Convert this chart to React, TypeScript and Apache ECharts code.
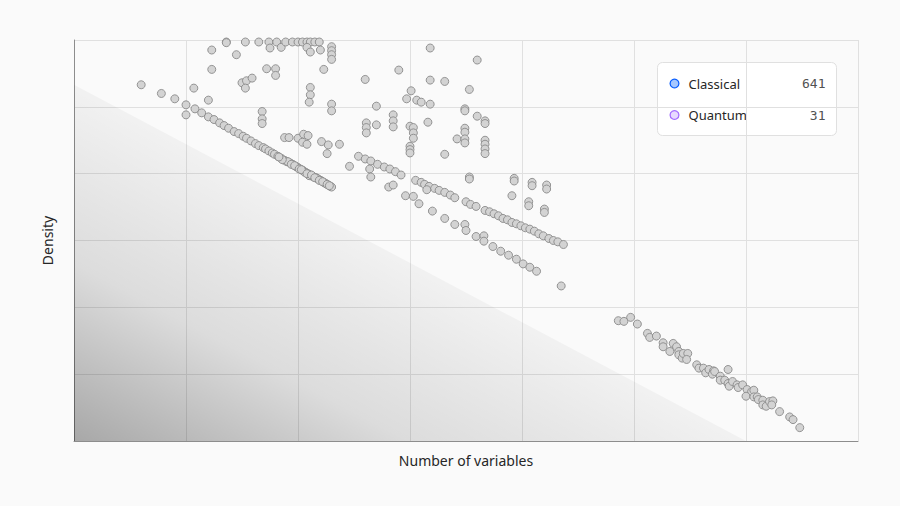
import React, { useEffect, useRef } from "react";
import * as echarts from "echarts";

// Axis domain (no tick labels are shown in the reference)
const xRange = [0, 7];
const yRange = [0, 6];

// Shaded triangle edge (data units)
const shadeEdge: [number, number][] = [[0, 5.33], [6, 0]];

// Upper scattered points and columns
const upperPoints: [number, number][] = [
  [0.60, 5.33], [0.78, 5.20], [0.90, 5.12], [1.00, 5.03], [1.00, 4.88], [1.07, 5.28], [1.08, 4.97],
  [1.20, 5.10], [1.23, 5.85], [1.23, 5.56], [1.36, 5.97], [1.36, 5.96], [1.45, 5.78], [1.53, 5.97],
  [1.50, 5.36], [1.54, 5.39], [1.59, 5.43], [1.53, 5.28], [1.65, 5.97], [1.72, 5.57], [1.74, 5.97],
  [1.75, 5.88], [1.80, 5.57], [1.80, 5.47], [1.81, 5.97], [1.85, 5.89], [1.89, 5.97], [1.95, 5.97],
  [2.00, 5.97], [2.04, 5.97], [2.08, 5.97], [2.11, 5.97], [2.15, 5.97], [2.19, 5.97], [2.08, 5.89],
  [2.11, 5.82], [2.20, 5.85], [1.68, 4.93], [1.68, 4.82], [1.68, 4.75], [1.88, 4.54], [1.92, 4.54],
  [2.00, 4.53], [2.05, 4.59], [2.09, 4.57], [2.04, 4.47], [2.08, 4.44], [2.11, 5.29], [2.11, 5.18],
  [2.10, 5.07], [2.23, 5.56], [2.30, 5.90], [2.30, 5.84], [2.30, 5.78], [2.30, 5.71], [2.30, 5.04],
  [2.30, 4.94], [2.21, 4.48], [2.27, 4.43], [2.26, 4.30], [2.37, 4.44], [2.46, 4.11], [2.60, 5.41],
  [2.70, 5.01], [2.70, 4.73], [2.61, 4.76], [2.61, 4.69], [2.61, 4.61], [2.85, 4.88], [2.85, 4.79],
  [2.85, 4.70], [2.90, 5.55], [3.00, 4.71], [3.03, 4.69], [3.03, 4.61], [3.03, 4.53], [3.00, 4.41],
  [3.00, 4.36], [3.00, 4.31], [3.01, 5.24], [2.97, 5.12], [3.06, 5.10], [3.10, 5.07], [3.18, 5.04],
  [3.18, 5.88], [3.18, 5.40], [3.31, 5.38], [3.16, 4.77], [3.31, 4.29], [3.53, 5.26], [3.60, 5.70],
  [3.49, 4.97], [3.49, 4.94], [3.60, 4.86], [3.67, 4.79], [3.67, 4.75], [3.49, 4.68], [3.49, 4.62],
  [3.42, 4.52], [3.49, 4.52], [3.49, 4.46], [3.67, 4.50], [3.67, 4.44], [3.67, 4.37], [3.67, 4.30],
  [3.53, 3.95], [3.53, 3.92], [3.93, 3.93], [3.93, 3.89], [4.09, 3.87], [4.09, 3.82], [4.22, 3.83],
  [4.22, 3.77], [3.91, 3.67], [4.06, 3.58], [4.06, 3.52], [4.20, 3.47], [4.20, 3.42],
];

// Dense first band
const bandA: [number, number][] = [
  [1.14, 4.91], [1.20, 4.85], [1.25, 4.81], [1.30, 4.76], [1.34, 4.72], [1.38, 4.68], [1.43, 4.63],
  [1.47, 4.60], [1.51, 4.56], [1.54, 4.53], [1.58, 4.49], [1.62, 4.45], [1.65, 4.42], [1.69, 4.39],
  [1.71, 4.37], [1.74, 4.34], [1.77, 4.31], [1.79, 4.29], [1.82, 4.26], [1.85, 4.23], [1.88, 4.20],
  [1.90, 4.18], [1.93, 4.16], [1.95, 4.14], [1.96, 4.13], [1.98, 4.11], [2.00, 4.09], [2.02, 4.07],
  [2.04, 4.05], [2.05, 4.04], [2.07, 4.02], [2.09, 4.00], [2.11, 3.98], [2.13, 3.96], [2.14, 3.95],
  [2.16, 3.94], [2.18, 3.92], [2.20, 3.90], [2.21, 3.89], [2.23, 3.87], [2.25, 3.85], [2.27, 3.83],
  [2.29, 3.81], [2.30, 3.80], [2.10, 3.97], [2.17, 3.93], [2.24, 3.86], [2.06, 4.02], [1.99, 4.10],
  [1.91, 4.18], [1.94, 4.14], [1.97, 4.12], [2.01, 4.07], [2.03, 4.06], [2.08, 4.00], [2.12, 3.98],
  [2.15, 3.94], [2.19, 3.90], [2.22, 3.88], [2.26, 3.84], [2.28, 3.82], [1.86, 4.21], [1.83, 4.25],
];

const bandB: [number, number][] = [
  [2.54, 4.26], [2.60, 4.22], [2.65, 4.19], [2.71, 4.14], [2.77, 4.10], [2.82, 4.07], [2.87, 4.03],
  [2.92, 3.98], [2.64, 4.07], [2.65, 3.95], [2.81, 3.80], [2.85, 3.83],
];

const bandC: [number, number][] = [
  [3.05, 3.90], [3.10, 3.87], [3.13, 3.84], [3.17, 3.81], [3.22, 3.78], [3.26, 3.75], [3.31, 3.72],
  [3.36, 3.68], [3.40, 3.64], [3.15, 3.76], [3.50, 3.58], [3.54, 3.54], [3.59, 3.51], [3.67, 3.45],
  [3.71, 3.43], [3.75, 3.40], [3.79, 3.37], [3.83, 3.33], [3.87, 3.31], [3.91, 3.27], [3.95, 3.25],
  [3.99, 3.22], [4.03, 3.19], [4.07, 3.17], [4.11, 3.14], [4.15, 3.10], [4.19, 3.07], [4.24, 3.03],
  [4.28, 3.00], [4.32, 2.98], [4.37, 2.94],
];

const bandD: [number, number][] = [
  [2.96, 3.67], [3.03, 3.66], [3.08, 3.55], [3.20, 3.44], [3.31, 3.33], [3.40, 3.24], [3.49, 3.24],
  [3.50, 3.15], [3.59, 3.06], [3.66, 3.07], [3.66, 2.99], [3.74, 2.91], [3.81, 2.84], [3.88, 2.78],
  [3.95, 2.72], [4.01, 2.65], [4.07, 2.60], [4.13, 2.54], [4.35, 2.32],
];

const rightCluster: [number, number][] = [
  [4.86, 1.80], [4.91, 1.79], [4.97, 1.85], [5.03, 1.75], [5.12, 1.61], [5.14, 1.55], [5.20, 1.57],
  [5.26, 1.47], [5.26, 1.41], [5.32, 1.34], [5.35, 1.46], [5.38, 1.41], [5.40, 1.34], [5.40, 1.29],
  [5.43, 1.24], [5.44, 1.31], [5.48, 1.31], [5.47, 1.22], [5.56, 1.14], [5.58, 1.09], [5.62, 1.09],
  [5.64, 1.02], [5.67, 1.07], [5.71, 1.05], [5.70, 1.00], [5.72, 1.04], [5.84, 1.07], [5.77, 0.97],
  [5.77, 0.91], [5.81, 0.91], [5.84, 0.86], [5.85, 0.82], [5.88, 0.89], [5.92, 0.84], [5.93, 0.80],
  [5.97, 0.84], [6.01, 0.77], [6.05, 0.74], [6.07, 0.76], [6.00, 0.67], [6.07, 0.66], [6.10, 0.66],
  [6.11, 0.62], [6.15, 0.61], [6.15, 0.54], [6.18, 0.52], [6.21, 0.59], [6.24, 0.60], [6.23, 0.54],
  [6.30, 0.44], [6.39, 0.36], [6.42, 0.32], [6.48, 0.20],
];

// Legend contents
const legendNames = ["Classical", "Quantum"];
const legendCounts = ["641", "31"];

const legendSwatches = [
  { fill: "#a6c8ff", stroke: "#0f62fe" },
  { fill: "#e8daff", stroke: "#a56eff" },
];

export default function App() {
  const ref = useRef<HTMLDivElement>(null);

  useEffect(() => {
    document.body.style.margin = "0";
    document.body.style.background = "#fafafa";
    const chart = echarts.init(ref.current!, undefined, { renderer: "svg" });

    const allPoints = [...upperPoints, ...bandA, ...bandB, ...bandC, ...bandD, ...rightCluster];

    const legendChildren: any[] = [
      {
        type: "rect",
        shape: { x: 0, y: 0, width: 179, height: 73, r: 5 },
        style: { fill: "rgba(255,255,255,0.85)", stroke: "#e0e0e0", lineWidth: 1 },
      },
    ];
    legendNames.forEach((name, i) => {
      const cy = 21 + i * 31.5;
      legendChildren.push({
        type: "circle",
        shape: { cx: 17, cy, r: 4.4 },
        style: { fill: legendSwatches[i].fill, stroke: legendSwatches[i].stroke, lineWidth: 1.3 },
      });
      legendChildren.push({
        type: "text",
        x: 31,
        y: cy,
        style: {
          text: name,
          fill: "#262626",
          font: "13px 'Noto Sans', sans-serif",
          verticalAlign: "middle",
          align: "left",
        },
      });
      legendChildren.push({
        type: "text",
        x: 168,
        y: cy,
        style: {
          text: legendCounts[i],
          fill: "#525252",
          font: "13px 'DejaVu Sans Mono', monospace",
          verticalAlign: "middle",
          align: "right",
        },
      });
    });

    chart.setOption({
      animation: false,
      backgroundColor: "#fafafa",
      grid: { left: 74, right: 42, top: 40, bottom: 65, containLabel: false },
      xAxis: {
        type: "value",
        min: xRange[0],
        max: xRange[1],
        interval: 1,
        name: "Number of variables",
        nameLocation: "middle",
        nameGap: 12,
        nameTextStyle: { fontFamily: "Noto Sans", fontSize: 14, color: "#262626" },
        axisLine: { show: true, lineStyle: { color: "#8d8d8d", width: 1 } },
        axisTick: { show: false },
        axisLabel: { show: false },
        splitLine: { show: true, lineStyle: { color: "#e0e0e0", width: 1 } },
      },
      yAxis: {
        type: "value",
        min: yRange[0],
        max: yRange[1],
        interval: 1,
        name: "Density",
        nameLocation: "middle",
        nameGap: 20,
        nameTextStyle: { fontFamily: "Noto Sans", fontSize: 14, color: "#262626" },
        axisLine: { show: true, lineStyle: { color: "#8d8d8d", width: 1 } },
        axisTick: { show: false },
        axisLabel: { show: false },
        splitLine: { show: true, lineStyle: { color: "#e0e0e0", width: 1 } },
      },
      series: [
        {
          type: "line",
          name: "shade",
          data: shadeEdge,
          symbol: "none",
          silent: true,
          z: 1,
          lineStyle: { width: 0, opacity: 0 },
          areaStyle: {
            opacity: 1,
            color: {
              type: "linear",
              x: 0,
              y: 1,
              x2: 0.5,
              y2: 0.5,
              colorStops: [
                { offset: 0, color: "rgba(0,0,0,0.33)" },
                { offset: 0.5, color: "rgba(0,0,0,0.12)" },
                { offset: 1, color: "rgba(0,0,0,0.035)" },
              ],
            },
          },
        },
        {
          type: "scatter",
          name: "Classical",
          data: allPoints,
          symbol: "circle",
          symbolSize: 8,
          z: 3,
          itemStyle: { color: "#d3d3d3", borderColor: "#8a8a8a", borderWidth: 0.9, opacity: 1 },
        },
      ],
      graphic: [
        {
          type: "group",
          left: 657,
          top: 62,
          z: 100,
          children: legendChildren,
        },
      ],
    });

    return () => chart.dispose();
  }, []);

  return <div ref={ref} style={{ width: 900, height: 506 }} />;
}
